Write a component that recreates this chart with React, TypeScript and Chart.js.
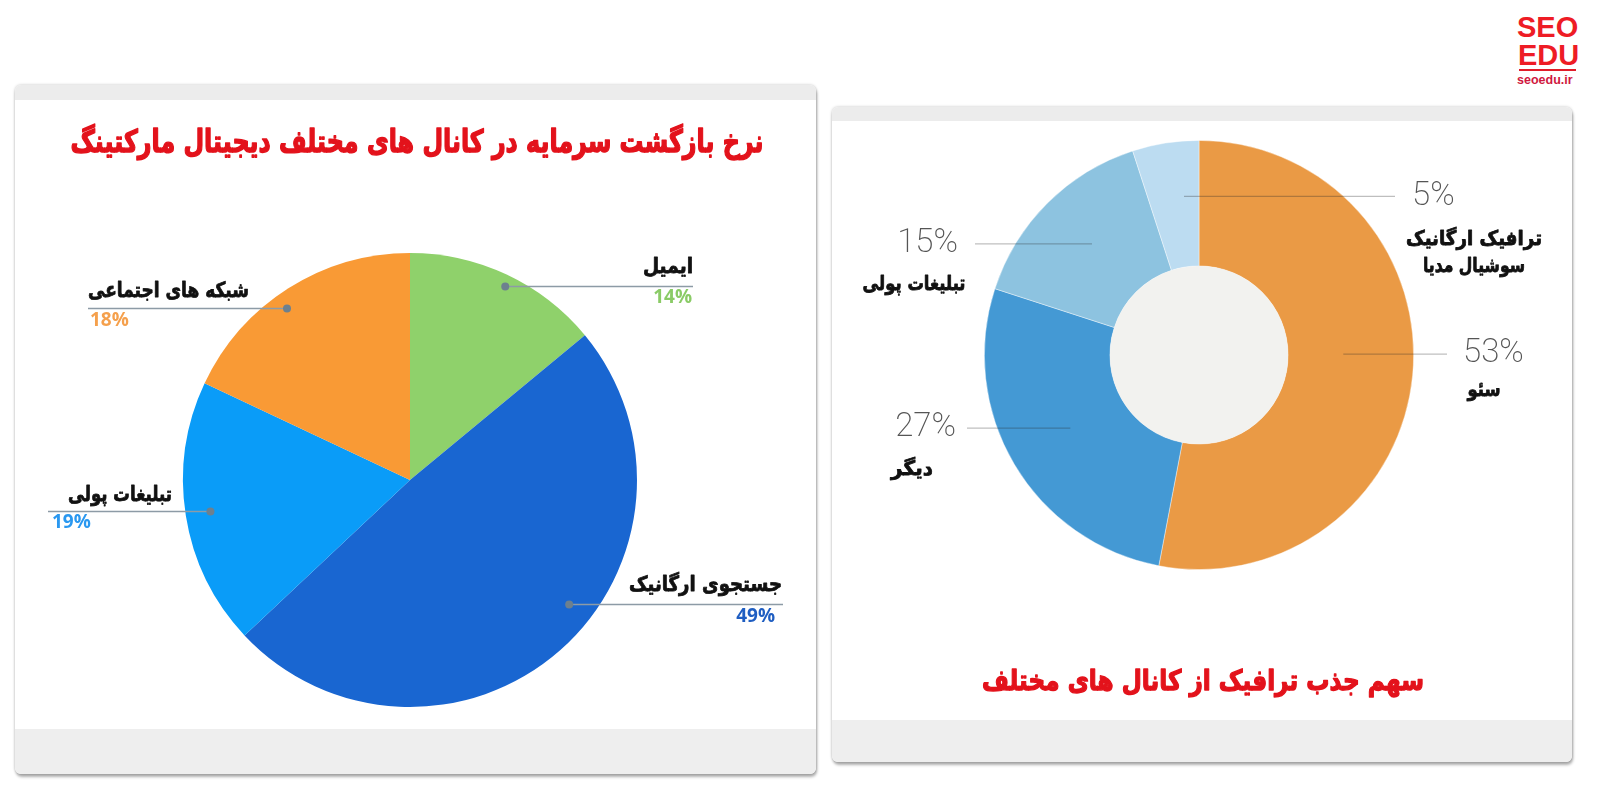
import React, { useEffect, useRef } from 'react';
import { Chart, registerables } from 'chart.js';

Chart.register(...registerables);

// ---------- data ----------
const roiTitle = 'نرخ بازگشت سرمایه در کانال های مختلف دیجیتال مارکتینگ';
const roiCategories = ['ایمیل', 'جستجوی ارگانیک', 'تبلیغات پولی', 'شبکه های اجتماعی'];
const roiValues = [14, 49, 19, 18];

const trafficTitle = 'سهم جذب ترافیک از کانال های مختلف';
const trafficCategories = [['سئو'], ['دیگر'], ['تبلیغات پولی'], ['ترافیک ارگانیک', 'سوشیال مدیا']];
const trafficValues = [53, 27, 15, 5];

// ---------- styles ----------
const ROI_COLORS = ['#8fd16b', '#1966d1', '#0a9cf8', '#f99a35'];
const ROI_PCT_COLORS = ['#8acb66', '#1f5ec2', '#2a98f0', '#f5a04c'];
const TRAFFIC_COLORS = ['#ea9a45', '#4499d4', '#8dc3e0', '#bcdcf1'];
const PERSIAN_FONT = '"DejaVu Sans", "Noto Sans", sans-serif';

type Align = 'left' | 'right' | 'center';

const roiLabelLayout: any[] = [
  { anchor: 0.52, radius: 0.95, lineX: 678, nameX: 678, nameAlign: 'right', nameDy: -19, nameMax: 50, pctX: 677, pctAlign: 'right', pctDy: 11 },
  { anchor: 0.44, radius: 0.89, lineX: 768, nameX: 767, nameAlign: 'right', nameDy: -19, nameMax: 153, pctX: 760, pctAlign: 'right', pctDy: 12 },
  { anchor: 0.5, radius: 0.89, lineX: 33, nameX: 157, nameAlign: 'right', nameDy: -16, nameMax: 104, pctX: 37, pctAlign: 'left', pctDy: 11 },
  { anchor: 0.45, radius: 0.93, lineX: 73, nameX: 73, nameAlign: 'left', nameDy: -17, nameMax: 161, pctX: 75, pctAlign: 'left', pctDy: 12 },
];

const trafficLabelLayout: any[] = [
  { anchor: 0.47, ring: 0.44, lineX: 615, pctX: 631, pctAlign: 'left', nameX: 652, nameDy: 37, nameMax: [33] },
  { anchor: 0.51, ring: 0.47, lineX: 135, pctX: 124, pctAlign: 'right', nameX: 80, nameDy: 42, nameMax: [52] },
  { anchor: 0.52, ring: 0.52, lineX: 143, pctX: 126, pctAlign: 'right', nameX: 82, nameDy: 41, nameMax: [103] },
  { anchor: 0.7, ring: 0.56, lineX: 563, pctX: 580, pctAlign: 'left', nameX: 642, nameDy: 43, nameMax: [136, 102] },
];

function drawText(ctx: CanvasRenderingContext2D, text: string, x: number, y: number, font: string, color: string, align: Align, maxWidth?: number, rtl = true, stroke = 0) {
  ctx.save();
  ctx.font = font;
  ctx.fillStyle = color;
  ctx.strokeStyle = color;
  ctx.lineJoin = 'round';
  ctx.textAlign = align;
  ctx.textBaseline = 'middle';
  (ctx as any).direction = rtl ? 'rtl' : 'ltr';
  if (stroke > 0) {
    ctx.lineWidth = stroke;
    if (maxWidth) ctx.strokeText(text, x, y, maxWidth);
    else ctx.strokeText(text, x, y);
  }
  if (maxWidth) ctx.fillText(text, x, y, maxWidth);
  else ctx.fillText(text, x, y);
  ctx.restore();
}

const roiLabelPlugin = {
  id: 'roiLabels',
  afterDraw(chart: any) {
    const ctx = chart.ctx as CanvasRenderingContext2D;
    drawText(ctx, roiTitle, 402, 59, `bold 31px ${PERSIAN_FONT}`, '#e3121b', 'center', 693, true, 1.4);
    const meta = chart.getDatasetMeta(0);
    meta.data.forEach((arc: any, i: number) => {
      const L = roiLabelLayout[i];
      const p = arc.getProps(['x', 'y', 'startAngle', 'endAngle', 'outerRadius'], true);
      const a = p.startAngle + (p.endAngle - p.startAngle) * L.anchor;
      const r = p.outerRadius * L.radius;
      const px = p.x + Math.cos(a) * r;
      const py = p.y + Math.sin(a) * r;
      ctx.save();
      ctx.strokeStyle = '#8d9ba6';
      ctx.lineWidth = 1.5;
      ctx.beginPath();
      ctx.moveTo(px, py);
      ctx.lineTo(L.lineX, py);
      ctx.stroke();
      ctx.fillStyle = '#6d808e';
      ctx.beginPath();
      ctx.arc(px, py, 4, 0, Math.PI * 2);
      ctx.fill();
      ctx.restore();
      drawText(ctx, roiCategories[i], L.nameX, py + L.nameDy, `bold 21px ${PERSIAN_FONT}`, '#111111', L.nameAlign, L.nameMax, true, 0.8);
      drawText(ctx, `${roiValues[i]}%`, L.pctX, py + L.pctDy, 'bold 19px "Open Sans", sans-serif', ROI_PCT_COLORS[i], L.pctAlign, undefined, false);
    });
  },
};

const trafficLabelPlugin = {
  id: 'trafficLabels',
  afterDatasetsDraw(chart: any) {
    const ctx = chart.ctx as CanvasRenderingContext2D;
    const meta = chart.getDatasetMeta(0);
    const first = meta.data[0];
    if (first) {
      const p = first.getProps(['x', 'y', 'innerRadius'], true);
      ctx.save();
      ctx.fillStyle = '#f2f2ef';
      ctx.beginPath();
      ctx.arc(p.x, p.y, p.innerRadius, 0, Math.PI * 2);
      ctx.fill();
      ctx.restore();
    }
  },
  afterDraw(chart: any) {
    const ctx = chart.ctx as CanvasRenderingContext2D;
    drawText(ctx, trafficTitle, 371, 576, `bold 28px ${PERSIAN_FONT}`, '#e3121b', 'center', 442, true, 1.3);
    const meta = chart.getDatasetMeta(0);
    meta.data.forEach((arc: any, i: number) => {
      const L = trafficLabelLayout[i];
      const p = arc.getProps(['x', 'y', 'startAngle', 'endAngle', 'outerRadius', 'innerRadius'], true);
      const a = p.startAngle + (p.endAngle - p.startAngle) * L.anchor;
      const r = p.innerRadius + (p.outerRadius - p.innerRadius) * L.ring;
      const px = p.x + Math.cos(a) * r;
      const py = p.y + Math.sin(a) * r;
      ctx.save();
      ctx.strokeStyle = 'rgba(40,40,40,0.3)';
      ctx.lineWidth = 1.2;
      ctx.beginPath();
      ctx.moveTo(px, py);
      ctx.lineTo(L.lineX, py);
      ctx.stroke();
      ctx.restore();
      drawText(ctx, `${trafficValues[i]}%`, L.pctX, py, '200 33px Roboto, sans-serif', '#555555', L.pctAlign, undefined, false);
      const lines: string[] = trafficCategories[i];
      lines.forEach((t, k) => {
        drawText(ctx, t, L.nameX, py + L.nameDy + k * 27, `bold 20px ${PERSIAN_FONT}`, '#111111', 'center', L.nameMax[k], true, 0.8);
      });
    });
  },
};

const Panel = ({ left, top, width, height, header, footerTop }: any) => (
  <div
    style={{
      position: 'absolute', left, top, width, height, background: '#ffffff', borderRadius: 6,
      boxShadow: '0 0 3px rgba(0,0,0,0.25), 1px 3px 3px rgba(0,0,0,0.3)', overflow: 'hidden',
    }}
  >
    <div style={{ position: 'absolute', left: 0, top: 0, width: '100%', height: header, background: '#ececec' }} />
    <div style={{ position: 'absolute', left: 0, top: footerTop, width: '100%', bottom: 0, background: '#eeeeee' }} />
  </div>
);

export default function App() {
  const leftRef = useRef<HTMLCanvasElement>(null);
  const rightRef = useRef<HTMLCanvasElement>(null);

  useEffect(() => {
    const left = new Chart(leftRef.current as HTMLCanvasElement, {
      type: 'pie',
      data: {
        labels: roiCategories,
        datasets: [{ data: roiValues, backgroundColor: ROI_COLORS, borderWidth: 0 }],
      },
      options: {
        responsive: false,
        animation: false,
        devicePixelRatio: 1,
        layout: { padding: { left: 168, top: 168, right: 179, bottom: 68 } },
        plugins: { legend: { display: false }, tooltip: { enabled: false }, title: { display: false } },
      },
      plugins: [roiLabelPlugin],
    } as any);

    const right = new Chart(rightRef.current as HTMLCanvasElement, {
      type: 'doughnut',
      data: {
        labels: trafficCategories.map((c) => c.join(' ')),
        datasets: [{ data: trafficValues, backgroundColor: TRAFFIC_COLORS, borderWidth: 0.8, borderColor: 'rgba(255,255,255,0.5)' }],
      },
      options: {
        responsive: false,
        animation: false,
        devicePixelRatio: 1,
        cutout: '41.5%',
        layout: { padding: { left: 152, top: 33, right: 158, bottom: 192 } },
        plugins: { legend: { display: false }, tooltip: { enabled: false }, title: { display: false } },
      },
      plugins: [trafficLabelPlugin],
    } as any);

    return () => {
      left.destroy();
      right.destroy();
    };
  }, []);

  return (
    <div style={{ position: 'absolute', left: 0, top: 0, width: 1600, height: 800, background: '#ffffff', overflow: 'hidden' }}>
      <Panel left={15} top={85} width={801} height={689} header={15} footerTop={644} />
      <Panel left={832} top={107} width={740} height={655} header={14} footerTop={613} />
      <canvas ref={leftRef} width={801} height={690} style={{ position: 'absolute', left: 15, top: 85, width: 801, height: 690 }} />
      <canvas ref={rightRef} width={740} height={655} style={{ position: 'absolute', left: 832, top: 107, width: 740, height: 655 }} />
      <div style={{ position: 'absolute', left: 1517, top: 13, fontFamily: '"Liberation Sans", Arial, sans-serif', fontWeight: 'bold', fontSize: 29, lineHeight: '29px', color: '#ee1c25' }}>SEO</div>
      <div style={{ position: 'absolute', left: 1518, top: 41, fontFamily: '"Liberation Sans", Arial, sans-serif', fontWeight: 'bold', fontSize: 29, lineHeight: '29px', color: '#ee1c25' }}>EDU</div>
      <div style={{ position: 'absolute', left: 1519, top: 69, width: 57, height: 2, background: '#e11d2a' }} />
      <div style={{ position: 'absolute', left: 1517, top: 74, fontFamily: '"Liberation Sans", Arial, sans-serif', fontWeight: 'bold', fontSize: 12.5, lineHeight: '12.5px', color: '#d01840' }}>seoedu.ir</div>
    </div>
  );
}
